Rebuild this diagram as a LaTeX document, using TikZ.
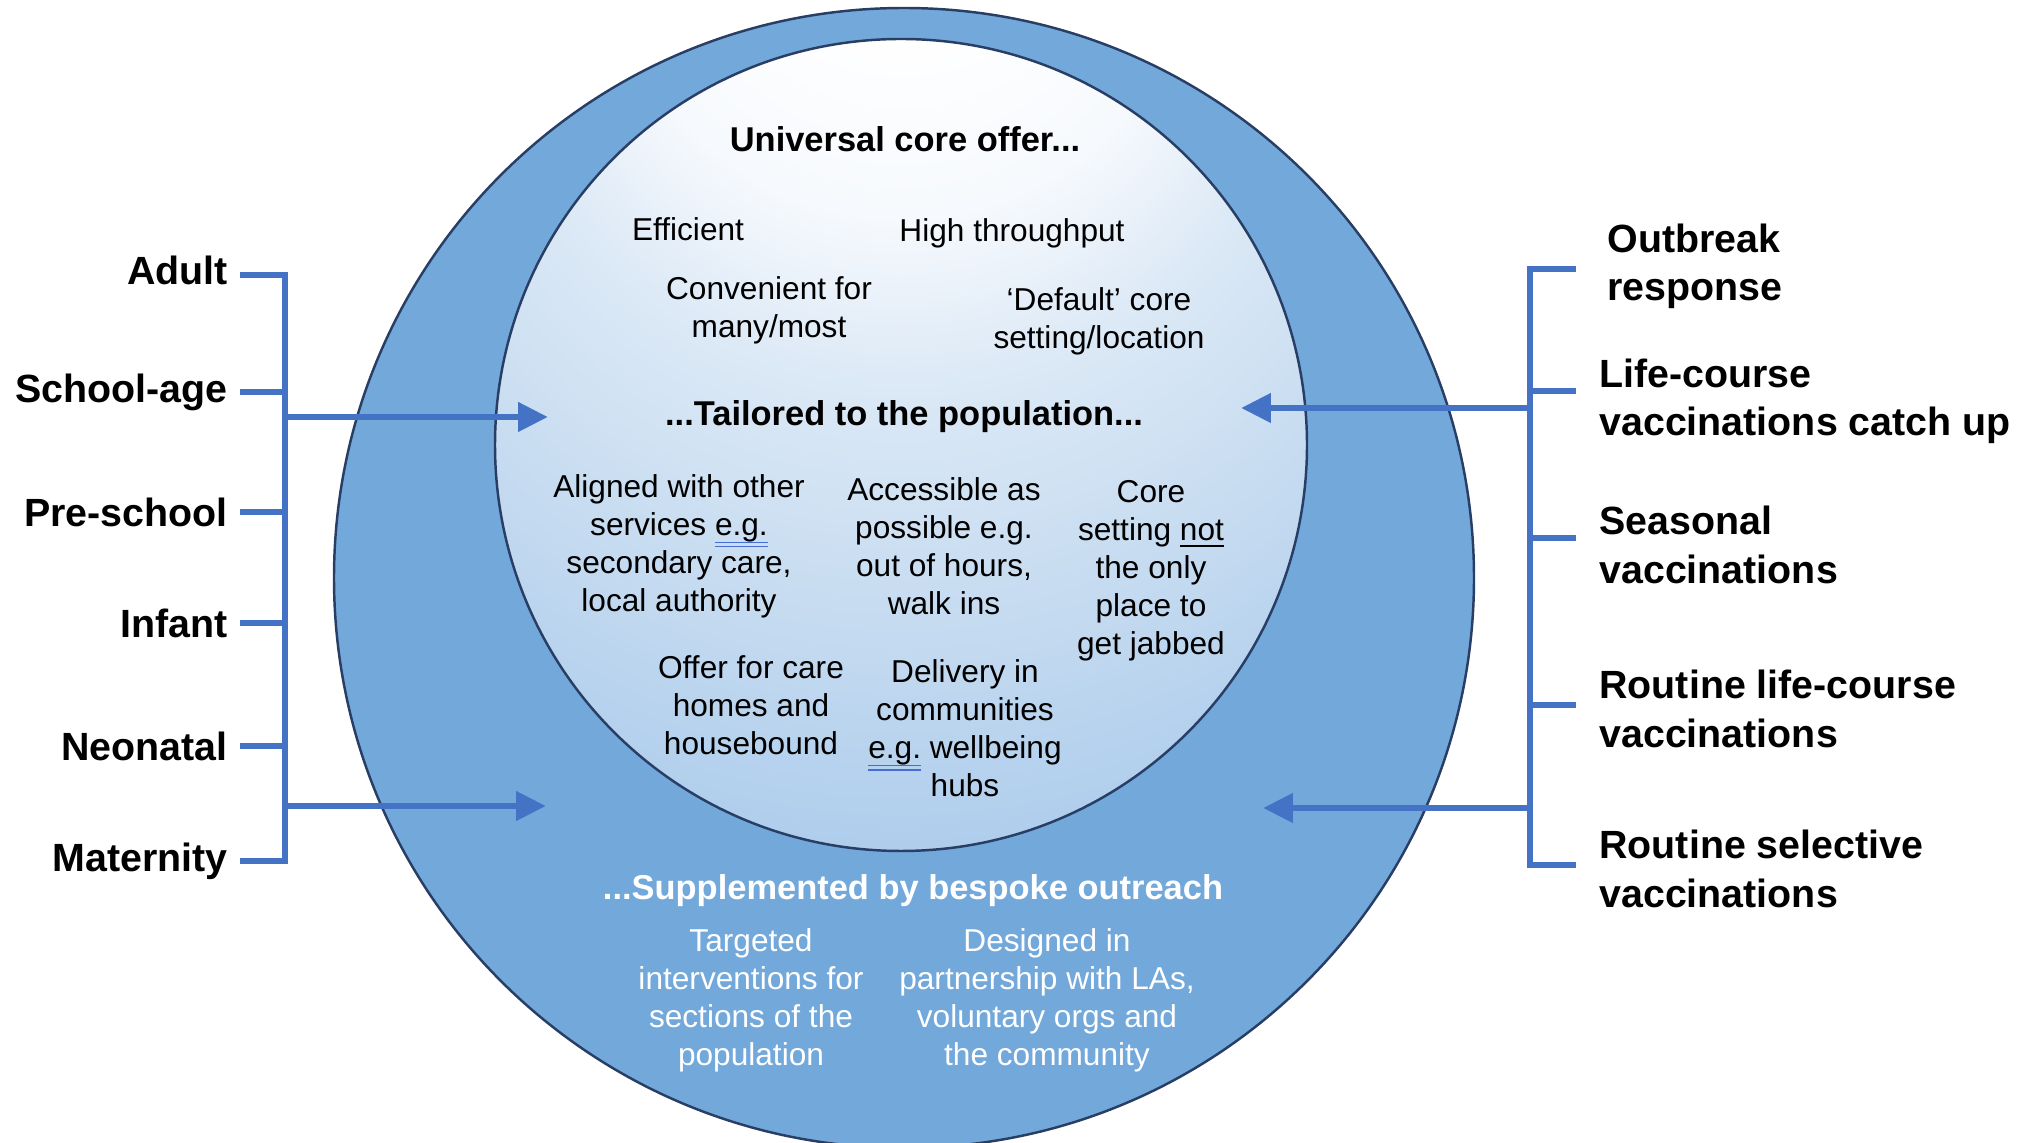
\documentclass[tikz,border=0pt]{standalone}
\usepackage{fontspec}
\setmainfont{Liberation Sans}
\usetikzlibrary{arrows.meta,positioning}
\definecolor{ringblue}{RGB}{115,168,219}
\definecolor{edgenavy}{RGB}{40,62,100}
\definecolor{linkblue}{RGB}{68,114,196}
\definecolor{glowa}{RGB}{246,249,253}
\definecolor{glowb}{RGB}{220,233,246}
\definecolor{glowc}{RGB}{196,218,240}
\definecolor{glowd}{RGB}{156,194,233}
\definecolor{glowe}{RGB}{126,174,224}
\definecolor{glowf}{RGB}{120,170,222}
\definecolor{ulblue}{RGB}{70,110,210}
\pgfdeclareradialshading{coreglow}{\pgfpoint{0bp}{40bp}}{color(0bp)=(white); color(10bp)=(white); color(18bp)=(glowa); color(25bp)=(glowb); color(36bp)=(glowc); color(53bp)=(glowd); color(62bp)=(glowe); color(90bp)=(glowf)}
\newcommand{\dblul}[1]{\setbox0\hbox{#1}\rlap{\color{ulblue}\rule[-2.3pt]{\wd0}{0.45pt}}\rlap{\color{ulblue}\rule[-3.5pt]{\wd0}{0.45pt}}\box0\relax}

\begin{document}
\begin{tikzpicture}[
  lbl/.style={font=\fontsize{11.2}{13.7}\selectfont\bfseries},
  head/.style={font=\fontsize{9.8}{11.8}\selectfont\bfseries},
  txt/.style={align=center,font=\fontsize{9}{10.8}\selectfont},
  brk/.style={linkblue,line width=1.9pt},
  flow/.style={brk,-{Triangle[length=8.5pt,width=8pt]}}]
  \useasboundingbox (0,0) rectangle (20.37,11.43);
  \draw[edgenavy,line width=0.7pt,fill=ringblue] (9.04,5.65) circle (5.70);
  \shade[shading=coreglow] (9.01,6.98) circle (4.06);
  \draw[edgenavy,line width=0.7pt] (9.01,6.98) circle (4.06);

  \node[head] (univ) at (9.05,10.04) {Universal core offer...};
  \node[txt] (effic) at (6.88,9.14) {Efficient};
  \node[txt] (highthr) at (10.12,9.10) {High throughput};
  \node[txt] (conv) at (7.69,8.33) {Convenient for\\many/most};
  \node[txt] (deflt) at (10.99,8.22) {‘Default’ core\\setting/location};
  \node[head] (tailor) at (9.04,7.26) {...Tailored to the population...};
  \node[txt] (aligned) at (6.79,5.97) {Aligned with other\\services \dblul{e.g.}\\secondary care,\\local authority};
  \node[txt] (access) at (9.44,5.97) {Accessible as\\possible e.g.\\out of hours,\\walk ins};
  \node[txt] (coreset) at (11.51,5.72) {Core\\setting \underline{not}\\the only\\place to\\get jabbed};
  \node[txt] (offer) at (7.51,4.38) {Offer for care\\homes and\\housebound};
  \node[txt] (deliv) at (9.65,4.15) {Delivery in\\communities\\\dblul{e.g.} wellbeing\\hubs};
  \node[head,white] (suppl) at (9.13,2.52) {...Supplemented by bespoke outreach};
  \node[txt,white] (target) at (7.51,1.43) {Targeted\\interventions for\\sections of the\\population};
  \node[txt,white] (design) at (10.47,1.43) {Designed in\\partnership with LAs,\\voluntary orgs and\\the community};

  \coordinate (lt1) at (2.40,8.68);
  \coordinate (lt2) at (2.40,7.51);
  \coordinate (lt3) at (2.40,6.31);
  \coordinate (lt4) at (2.40,5.20);
  \coordinate (lt5) at (2.40,3.97);
  \coordinate (lt6) at (2.40,2.82);
  \coordinate (lbtop) at (2.85,8.68);
  \coordinate (lbbot) at (2.85,2.82);
  \node[lbl,left=0pt of lt1,yshift=0.5mm] (adult) {Adult};
  \node[lbl,left=0pt of lt2] (school) {School-age};
  \node[lbl,left=0pt of lt3] (presch) {Pre-school};
  \node[lbl,left=0pt of lt4] (infant) {Infant};
  \node[lbl,left=0pt of lt5] (neonat) {Neonatal};
  \node[lbl,left=0pt of lt6] (matern) {Maternity};
  \draw[brk] (lt1) -- (lbtop) -- (lbbot) -- (lt6);
  \draw[brk] (lt2) -- (lt2 -| lbtop);
  \draw[brk] (lt3) -- (lt3 -| lbtop);
  \draw[brk] (lt4) -- (lt4 -| lbtop);
  \draw[brk] (lt5) -- (lt5 -| lbtop);
  \coordinate (lfrom1) at (2.85,7.26);
  \coordinate (lto1) at (5.48,7.26);
  \coordinate (lfrom2) at (2.85,3.37);
  \coordinate (lto2) at (5.46,3.37);
  \draw[flow] (lfrom1) -- (lto1);
  \draw[flow] (lfrom2) -- (lto2);

  \coordinate (rt1) at (15.76,8.74);
  \coordinate (rt2) at (15.76,7.52);
  \coordinate (rt3) at (15.76,6.05);
  \coordinate (rt4) at (15.76,4.38);
  \coordinate (rt5) at (15.76,2.78);
  \coordinate (rbtop) at (15.30,8.74);
  \coordinate (rbbot) at (15.30,2.78);
  \node[lbl,align=left,anchor=west] (outbrk) at (15.95,8.77) {Outbreak\\response};
  \node[lbl,align=left,anchor=west] (lifec) at (15.87,7.42) {Life-course\\vaccinations catch up};
  \node[lbl,align=left,anchor=west] (season) at (15.87,5.98) {Seasonal\\vaccinations};
  \node[lbl,align=left,anchor=west] (routlc) at (15.87,4.34) {Routine life-course\\vaccinations};
  \node[lbl,align=left,anchor=west] (routsel) at (15.87,2.74) {Routine selective\\vaccinations};
  \draw[brk] (rt1) -- (rbtop) -- (rbbot) -- (rt5);
  \draw[brk] (rt2) -- (rt2 -| rbtop);
  \draw[brk] (rt3) -- (rt3 -| rbtop);
  \draw[brk] (rt4) -- (rt4 -| rbtop);
  \coordinate (rfrom1) at (15.30,7.35);
  \coordinate (rto1) at (12.41,7.35);
  \coordinate (rfrom2) at (15.30,3.35);
  \coordinate (rto2) at (12.63,3.35);
  \draw[flow] (rfrom1) -- (rto1);
  \draw[flow] (rfrom2) -- (rto2);
\end{tikzpicture}
\end{document}
